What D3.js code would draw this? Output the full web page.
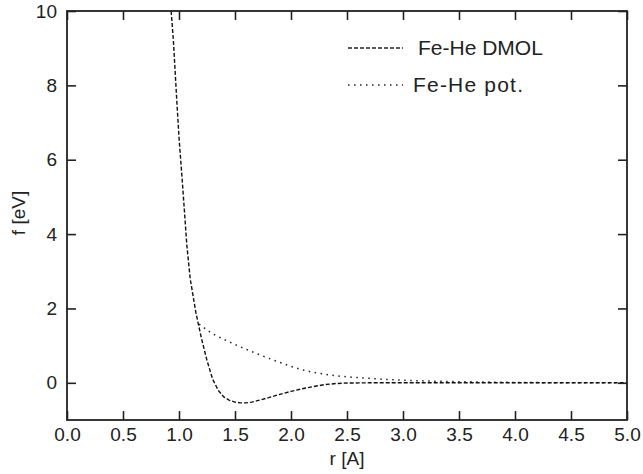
<!DOCTYPE html>
<html><head><meta charset="utf-8">
<script src="https://cdn.jsdelivr.net/npm/d3@7"></script>
<style>body{margin:0;background:#fff}svg{display:block}text{font-family:"Liberation Sans",Arial,sans-serif;fill:#222}</style>
</head><body>
<svg id="c" width="643" height="474"></svg>
<script>
// Fe-He DMOL (dashed)
const dmolR = [0.93,0.95,0.98,1.00,1.03,1.07,1.10,1.15,1.20,1.25,1.30,1.35,1.40,1.45,1.50,1.55,1.60,1.65,1.70,1.80,1.90,2.00,2.10,2.20,2.30,2.40,2.50,2.70,3.00,3.50,4.00,4.50,5.00];
const dmolF = [10.0,9.2,7.6,6.6,5.4,3.7,2.8,1.9,1.2,0.6,0.1,-0.2,-0.38,-0.47,-0.52,-0.54,-0.54,-0.52,-0.48,-0.40,-0.31,-0.23,-0.16,-0.10,-0.05,-0.02,-0.005,0,0,0,0,0,0];
// Fe-He pot. (dotted)
const potR = [1.18,1.25,1.30,1.40,1.50,1.60,1.70,1.80,1.90,2.00,2.10,2.20,2.30,2.40,2.50,2.60,2.70,2.80,3.00,3.20,3.50,4.00,4.50,5.00];
const potF = [1.58,1.42,1.32,1.17,1.03,0.90,0.78,0.66,0.55,0.44,0.35,0.28,0.23,0.19,0.16,0.14,0.12,0.10,0.07,0.05,0.03,0.01,0.0,0.0];
const xTicks = [0,0.5,1,1.5,2,2.5,3,3.5,4,4.5,5];
const yTicks = [0,2,4,6,8,10];
const legendLabels = ["Fe-He DMOL","Fe-He pot."];

const svg = d3.select("#c");
const L=67, R=627, T=11, B=420;
const x = d3.scaleLinear().domain([0,5]).range([L,R]);
const y = d3.scaleLinear().domain([-1,10]).range([B,T]);
const line = d3.line().x(d=>x(d[0])).y(d=>y(d[1]));

svg.append("clipPath").attr("id","pc").append("rect").attr("x",L).attr("y",T).attr("width",R-L).attr("height",B-T);

const g = svg.append("g").attr("clip-path","url(#pc)");
g.append("path").datum(potR.map((r,i)=>[r,potF[i]])).attr("d",line)
  .attr("fill","none").attr("stroke","#222").attr("stroke-width",1.5).attr("stroke-dasharray","1.5,4.5");
g.append("path").datum(dmolR.map((r,i)=>[r,dmolF[i]])).attr("d",line)
  .attr("fill","none").attr("stroke","#111").attr("stroke-width",1.4).attr("stroke-dasharray","4,2");

// axes (inward ticks)
const tl = 9;
const axBottom = d3.axisBottom(x).tickValues(xTicks).tickSize(-tl).tickPadding(8).tickFormat(d3.format(".1f"));
const axLeft = d3.axisLeft(y).tickValues(yTicks).tickSize(-tl).tickPadding(10).tickFormat(d3.format("d"));
const axTop = d3.axisTop(x).tickValues(xTicks).tickSize(-tl).tickFormat("");
const axRight = d3.axisRight(y).tickValues(yTicks).tickSize(-tl).tickFormat("");
function style(sel){
  sel.select(".domain").remove();
  sel.selectAll(".tick line").attr("stroke","#222").attr("stroke-width",1.6);
  sel.selectAll("text").attr("font-size",19).attr("fill","#222").attr("stroke","none");
}
svg.append("g").attr("transform",`translate(0,${B})`).call(axBottom).call(style);
svg.append("g").attr("transform",`translate(${L},0)`).call(axLeft).call(style);
svg.append("g").attr("transform",`translate(0,${T})`).call(axTop).call(style);
svg.append("g").attr("transform",`translate(${R},0)`).call(axRight).call(style);
svg.append("rect").attr("x",L).attr("y",T).attr("width",R-L).attr("height",B-T)
  .attr("fill","none").attr("stroke","#222").attr("stroke-width",1.8);

// axis titles
svg.append("text").attr("x",(L+R)/2).attr("y",465).attr("text-anchor","middle").attr("font-size",19).text("r [A]");
svg.append("text").attr("transform","translate(18,213) rotate(-90)").attr("text-anchor","middle").attr("dy","0.35em").attr("font-size",19).text("f [eV]");

// legend
const lg = svg.append("g");
[ {y:48, dash:"4,2", w:1.4}, {y:85, dash:"1.5,4.5", w:1.5} ].forEach((d,i)=>{
  lg.append("line").attr("x1",348).attr("x2",403).attr("y1",d.y).attr("y2",d.y)
    .attr("stroke","#222").attr("stroke-width",d.w).attr("stroke-dasharray",d.dash);
  const t = lg.append("text").attr("x",i===0?418:413).attr("y",d.y).attr("dy","0.35em").attr("font-size",21)
    .text(legendLabels[i]);
  if(i===1) t.attr("textLength",110).attr("lengthAdjust","spacing");
});
</script>
</body></html>
